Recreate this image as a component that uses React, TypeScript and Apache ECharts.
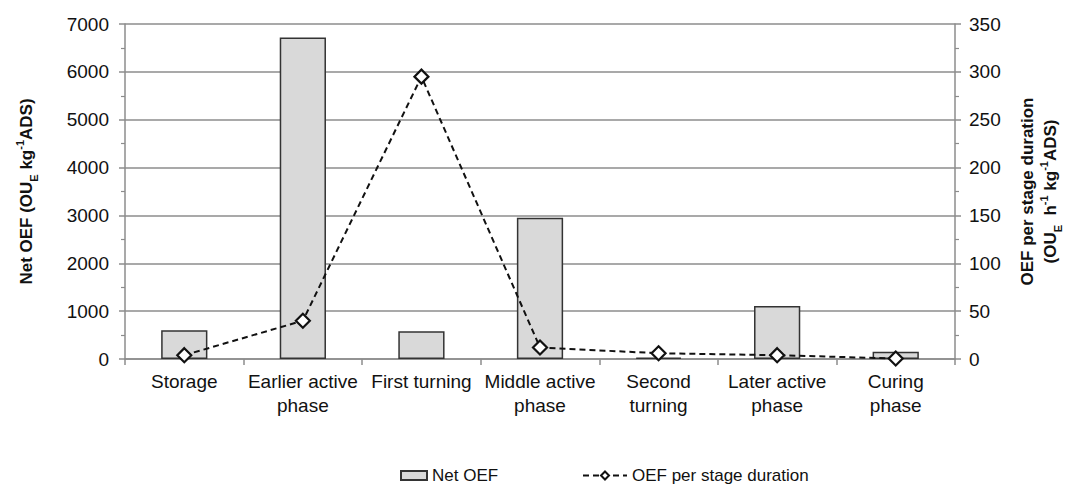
import React, { useEffect, useRef } from "react";
import * as echarts from "echarts";

const categories = [
  "Storage",
  "Earlier active\nphase",
  "First turning",
  "Middle active\nphase",
  "Second\nturning",
  "Later active\nphase",
  "Curing\nphase",
];
const netOEF = [600, 6720, 580, 2950, 30, 1110, 150];
const oefPerDuration = [4, 40, 295, 12, 6, 4, 0.5];
const leftTicks = { min: 0, max: 7000, interval: 1000 };
const rightTicks = { min: 0, max: 350, interval: 50 };

const FONT = "'Liberation Sans', Arial, sans-serif";
const GRAY = "#8c8c8c";

export default function App() {
  const ref = useRef<HTMLDivElement>(null);
  useEffect(() => {
    document.body.style.margin = "0";
    if (!ref.current) return;
    const chart = echarts.init(ref.current, undefined, { renderer: "svg" });
    const nameRich = {
      b: { fontFamily: FONT, fontSize: 17, fontWeight: "bold", color: "#111", lineHeight: 21 },
      sub: { fontFamily: FONT, fontSize: 11, fontWeight: "bold", color: "#111", verticalAlign: "bottom", lineHeight: 15 },
      sup: { fontFamily: FONT, fontSize: 11, fontWeight: "bold", color: "#111", verticalAlign: "top", lineHeight: 25 },
    };
    chart.setOption({
      animation: false,
      backgroundColor: "#fff",
      textStyle: { fontFamily: FONT },
      grid: { left: 125, right: 118, top: 24, bottom: 129, containLabel: false },
      legend: [
        {
          data: [{ name: "Net OEF", icon: "rect" }],
          left: 395,
          top: 462,
          itemWidth: 26,
          itemHeight: 9,
          itemGap: 5,
          textStyle: { fontFamily: FONT, fontSize: 17, color: "#111" },
        },
        {
          data: [{ name: "OEF per stage duration" }],
          left: 577,
          top: 462,
          itemWidth: 44,
          itemHeight: 10,
          textStyle: { fontFamily: FONT, fontSize: 17, color: "#111" },
        },
      ],
      xAxis: {
        type: "category",
        data: categories,
        boundaryGap: true,
        axisLine: { lineStyle: { color: GRAY, width: 1.5 } },
        axisTick: { show: true, length: 6, alignWithLabel: false, lineStyle: { color: GRAY, width: 1.5 } },
        axisLabel: {
          interval: 0,
          fontFamily: FONT,
          fontSize: 19,
          lineHeight: 24,
          color: "#111",
          margin: 10,
        },
      },
      yAxis: [
        {
          type: "value",
          min: leftTicks.min,
          max: leftTicks.max,
          interval: leftTicks.interval,
          position: "left",
          name: "{b|Net OEF (OU}{sub|E}{b| kg}{sup|-1}{b|ADS)}",
          nameLocation: "middle",
          nameRotate: 90,
          nameGap: 86,
          nameTextStyle: { rich: nameRich },
          axisLine: { show: true, lineStyle: { color: GRAY, width: 1.5 } },
          axisTick: { show: true, length: 6, lineStyle: { color: GRAY, width: 1.5 } },
          minorTick: { show: true, splitNumber: 2, length: 4, lineStyle: { color: GRAY, width: 1.2 } },
          splitLine: { show: true, lineStyle: { color: GRAY, width: 1.5 } },
          axisLabel: { fontFamily: FONT, fontSize: 19, color: "#111", margin: 16, formatter: (v: number) => String(v) },
        },
        {
          type: "value",
          min: rightTicks.min,
          max: rightTicks.max,
          interval: rightTicks.interval,
          position: "right",
          name: "{b|OEF per stage duration}\n{b|(OU}{sub|E}{b|  h}{sup|-1}{b| kg}{sup|-1}{b|ADS)}",
          nameLocation: "middle",
          nameRotate: 90,
          nameGap: 62,
          nameTextStyle: { rich: nameRich, align: "center" },
          axisLine: { show: true, lineStyle: { color: GRAY, width: 1.5 } },
          axisTick: { show: true, length: 6, lineStyle: { color: GRAY, width: 1.5 } },
          minorTick: { show: true, splitNumber: 2, length: 4, lineStyle: { color: GRAY, width: 1.2 } },
          splitLine: { show: false },
          axisLabel: { fontFamily: FONT, fontSize: 19, color: "#111", margin: 14, formatter: (v: number) => String(v) },
        },
      ],
      series: [
        {
          name: "Net OEF",
          type: "bar",
          yAxisIndex: 0,
          data: netOEF,
          barWidth: "39%",
          itemStyle: { color: "#d9d9d9", borderColor: "#333", borderWidth: 1.5 },
        },
        {
          name: "OEF per stage duration",
          type: "line",
          yAxisIndex: 1,
          data: oefPerDuration,
          symbol: "diamond",
          symbolSize: 14,
          lineStyle: { color: "#111", width: 2, type: [6, 4] },
          itemStyle: { color: "#fff", borderColor: "#111", borderWidth: 2.2 },
          z: 5,
        },
      ],
    });
    return () => chart.dispose();
  }, []);
  return <div ref={ref} style={{ width: 1073, height: 488 }} />;
}
